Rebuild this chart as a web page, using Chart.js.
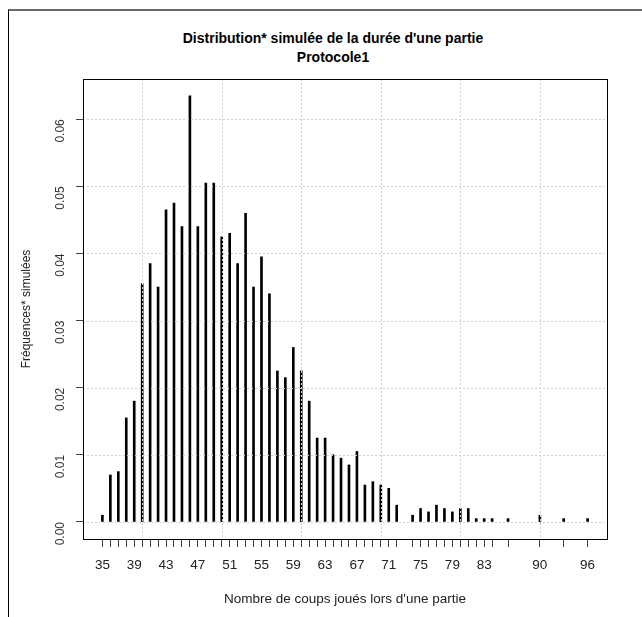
<!DOCTYPE html>
<html lang="fr">
<head>
<meta charset="utf-8">
<title>Durée d'une partie</title>
<script src="https://cdn.jsdelivr.net/npm/chart.js@4"></script>
<style>
  html, body { margin: 0; padding: 0; background: #fff; }
  #page { position: relative; width: 642px; height: 617px; overflow: hidden; font-family: "Liberation Sans", Arial, sans-serif; }
  #cadre { position: absolute; left: 8px; top: 9px; right: 0; bottom: 0; border-top: 2px solid #6a6a6a; border-left: 1px solid #000; }
  #titre { position: absolute; left: 0; width: 666px; top: 29px; text-align: center; font-weight: bold; font-size: 14px; line-height: 19px; color: #000; }
  canvas { position: absolute; left: 0; top: 0; }
</style>
</head>
<body>
<div id="page">
  <div id="cadre"></div>
  <div id="titre">Distribution* simulée de la durée d'une partie<br>Protocole1</div>
  <canvas id="graphe" width="642" height="617"></canvas>
</div>
<script>
// nombre de coups observés et fréquence simulée de chacun
const coups = [35, 36, 37, 38, 39, 40, 41, 42, 43, 44, 45, 46, 47, 48, 49, 50,
  51, 52, 53, 54, 55, 56, 57, 58, 59, 60, 61, 62, 63, 64, 65, 66, 67, 68, 69, 70,
  71, 72, 74, 75, 76, 77, 78, 79, 80, 81, 82, 83, 84, 86, 90, 93, 96];
const frequences = [0.0010, 0.0070, 0.0075, 0.0155, 0.0180, 0.0355, 0.0385, 0.0350,
  0.0465, 0.0475, 0.0440, 0.0635, 0.0440, 0.0505, 0.0505, 0.0425, 0.0430, 0.0385,
  0.0460, 0.0350, 0.0395, 0.0340, 0.0225, 0.0215, 0.0260, 0.0225, 0.0180, 0.0125,
  0.0125, 0.0100, 0.0095, 0.0085, 0.0105, 0.0055, 0.0060, 0.0055, 0.0050, 0.0025,
  0.0010, 0.0020, 0.0015, 0.0025, 0.0020, 0.0015, 0.0020, 0.0020, 0.0005, 0.0005,
  0.0005, 0.0005, 0.0010, 0.0005, 0.0005];

// étiquettes affichées sous l'axe x (les autres graduations restent muettes)
const etiquettesX = [35, 39, 43, 47, 51, 55, 59, 63, 67, 71, 75, 79, 83, 90, 96];
const graduationsY = [0, 0.01, 0.02, 0.03, 0.04, 0.05, 0.06];
const grilleX = [40, 50, 60, 70, 80, 90];

// grille pointillée par-dessus les barres + cadre du graphe
const grillePointillee = {
  id: 'grillePointillee',
  afterDatasetsDraw(chart) {
    const { ctx, chartArea: a, scales: { x, y } } = chart;
    ctx.save();
    ctx.strokeStyle = '#d3d3d3';
    ctx.lineWidth = 1;
    ctx.setLineDash([2, 2]);
    ctx.beginPath();
    grilleX.forEach(v => {
      const px = Math.round(x.getPixelForValue(v)) + 0.5;
      ctx.moveTo(px, a.top);
      ctx.lineTo(px, a.bottom);
    });
    graduationsY.forEach(v => {
      const py = Math.round(y.getPixelForValue(v)) + 0.5;
      ctx.moveTo(a.left, py);
      ctx.lineTo(a.right, py);
    });
    ctx.stroke();
    ctx.setLineDash([]);
    ctx.strokeStyle = '#000';
    ctx.strokeRect(a.left + 0.5, a.top + 0.5, a.right - a.left, a.bottom - a.top);
    ctx.restore();
  }
};

new Chart(document.getElementById('graphe'), {
  type: 'bar',
  data: {
    datasets: [{
      data: coups.map((c, i) => ({ x: c, y: frequences[i] })),
      backgroundColor: '#000',
      borderWidth: 0,
      barThickness: 2
    }]
  },
  options: {
    responsive: false,
    animation: false,
    layout: { padding: { top: 79, right: 35, left: 0, bottom: 0 } },
    plugins: { legend: { display: false }, tooltip: { enabled: false } },
    scales: {
      x: {
        type: 'linear',
        offset: false,
        min: 32.56,
        max: 98.44,
        afterBuildTicks: axis => { axis.ticks = coups.map(v => ({ value: v })); },
        afterFit: axis => { axis.height = 78; },
        border: { display: false },
        grid: { drawOnChartArea: false, drawTicks: true, tickLength: 8, color: '#444', offset: false },
        ticks: {
          autoSkip: false,
          maxRotation: 0,
          padding: 10,
          color: '#222',
          font: { family: 'Liberation Sans', size: 13.5 },
          callback: v => etiquettesX.includes(v) ? String(v) : ''
        },
        title: {
          display: true,
          text: "Nombre de coups joués lors d'une partie",
          color: '#222',
          font: { family: 'Liberation Sans', size: 13.5 },
          padding: { top: 0, bottom: 10 }
        }
      },
      y: {
        min: -0.00254,
        max: 0.066,
        afterBuildTicks: axis => { axis.ticks = graduationsY.map(v => ({ value: v })); },
        afterFit: axis => { axis.width = 83; },
        border: { display: false },
        grid: { drawOnChartArea: false, drawTicks: true, tickLength: 7, color: '#444' },
        ticks: {
          minRotation: 90,
          maxRotation: 90,
          padding: 15,
          color: '#333',
          font: { family: 'Liberation Sans', size: 12 },
          callback: v => v.toFixed(2)
        },
        title: {
          display: true,
          text: 'Fréquences* simulées',
          color: '#222',
          font: { family: 'Liberation Sans', size: 12 },
          padding: { top: 19, bottom: 0 }
        }
      }
    }
  },
  plugins: [grillePointillee]
});
</script>
</body>
</html>
